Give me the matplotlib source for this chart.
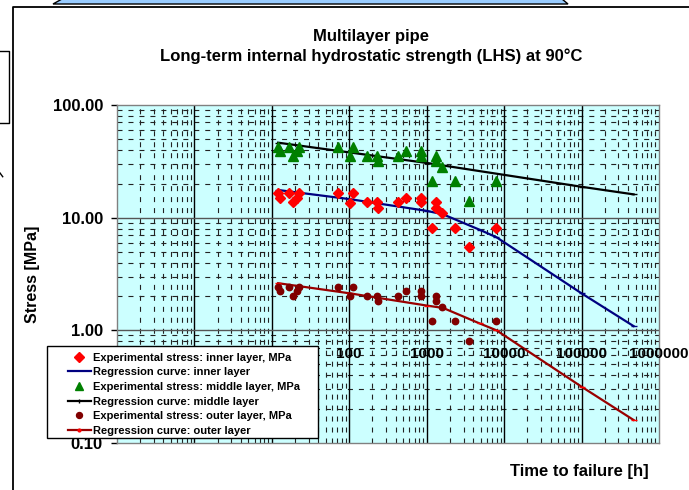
import matplotlib
matplotlib.use("Agg")
import matplotlib.pyplot as plt
from matplotlib.lines import Line2D
from matplotlib.patches import Polygon, Rectangle

# ---- data ----
t_exp = [12.1, 12.8, 16.8, 18.9, 21, 22.4, 72, 104, 113, 168, 228, 237, 425, 540,
         834, 834, 1156, 1315, 1315, 1570, 2333, 3475, 7820]
s_inner = [16.5, 15.0, 16.5, 13.7, 15.0, 16.7, 16.5, 13.6, 16.5, 13.7, 13.7, 12.3, 13.7, 14.9,
           15.0, 13.7, 8.1, 13.7, 12.3, 10.9, 8.1, 5.5, 8.1]
s_middle = [42, 39, 42, 35.5, 39, 42.5, 42, 35.5, 42, 35.5, 35.5, 31.8, 35.5, 39,
            39, 35.5, 21.3, 35.5, 31.8, 28, 21.3, 14.1, 21.3]
s_outer = [2.44, 2.24, 2.44, 2.03, 2.24, 2.44, 2.44, 2.03, 2.44, 2.03, 2.03, 1.82, 2.03, 2.24,
           2.24, 2.03, 1.21, 2.03, 1.82, 1.62, 1.21, 0.81, 1.21]

t_reg = [12.1, 102, 998, 1633, 4856, 7980, 1.0e5, 4.7e5]
reg_inner = [17.6, 14.6, 11.5, 10.7, 7.8, 6.7, 2.13, 1.09]
reg_outer = [2.62, 2.13, 1.66, 1.58, 1.15, 1.0, 0.316, 0.16]
t_reg_mid = [12.1, 1000, 1.0e5, 4.7e5]
reg_middle = [46.3, 30.6, 18.8, 16.1]

x_decades = [1, 10, 100, 1000, 10000, 100000]
# labels for 0.1 / 1 / 10 sit behind the legend in the original, only these show
x_ticks = [100, 1000, 10000, 100000, 1000000]
x_ticklabels = ["100", "1000", "10000", "100000", "1000000"]
y_ticks = [0.1, 1, 10, 100]
y_ticklabels = ["0.10", "1.00", "10.00", "100.00"]

W, H = 689, 490
BG = "#CCFFFF"; RED = "#FF0000"; NAVY = "#000080"; GREEN = "#008000"; MAROON = "#800000"
DRED = "#990000"; FRAME = "#808080"; INK = "#000000"

plt.rcParams.update({"font.family": ["Liberation Sans", "DejaVu Sans"], "font.weight": "bold",
                     "lines.scale_dashes": False})


def px(x, y):
    return (x / W, 1 - y / H)


def main():
    fig = plt.figure(figsize=(W / 100, H / 100), dpi=100)
    l, b = px(116.8, 443)
    r, t = px(659, 105)
    ax = fig.add_axes([l, b, r - l, t - b])
    ax.set_facecolor(BG)
    ax.set_xscale("log"); ax.set_yscale("log")
    ax.set_xlim(0.1, 1e6); ax.set_ylim(0.1, 100)

    # grid: solid majors, dashed minors (Excel style)
    for dec in range(-1, 6):
        for k in range(2, 10):
            ax.axvline(k * 10.0 ** dec, color="#222222", lw=0.8, ls=(0, (3.6, 4.3)), zorder=1)
    for dec in range(-1, 2):
        for k in range(2, 10):
            ax.axhline(k * 10.0 ** dec, color="#222222", lw=0.8, ls=(0, (3.6, 4.3)), zorder=1)
    for xv in x_decades:
        ax.axvline(xv, color=INK, lw=1.0, zorder=1.5)
    for yv in y_ticks[1:3]:
        ax.axhline(yv, color="#555555", lw=1.0, zorder=1.5)

    for sp in ax.spines.values():
        sp.set_color(FRAME); sp.set_linewidth(1.0)

    ax.set_yticks(y_ticks)
    ax.set_yticklabels(y_ticklabels, fontsize=12, fontweight="bold")
    ax.yaxis.set_minor_locator(matplotlib.ticker.NullLocator())
    ax.tick_params(axis="y", which="major", direction="out", length=4, width=1, color=INK, pad=6)
    ax.set_xticks([]); ax.xaxis.set_minor_locator(matplotlib.ticker.NullLocator())

    # x tick labels sit on the y = 1 line (axis crossing)
    for xv, lab in zip(x_ticks, x_ticklabels):
        ax.annotate(lab, (xv, 1.0), xytext=(0, -16.7), textcoords="offset points",
                    ha="center", va="center", fontsize=11, fontweight="bold", zorder=6,
                    annotation_clip=False)

    # regression curves
    ax.plot(t_reg, reg_inner, color=NAVY, lw=1.6, zorder=3, marker="_", ms=4, mec=NAVY)
    ax.plot(t_reg_mid, reg_middle, color=INK, lw=1.6, zorder=3, marker="_", ms=4, mec=INK)
    ax.plot(t_reg, reg_outer, color=DRED, lw=1.6, zorder=3, marker="_", ms=4, mec=RED)

    # experimental points
    ax.plot(t_exp, s_inner, ls="none", marker="D", ms=5, color=RED, zorder=4)
    ax.plot(t_exp, s_middle, ls="none", marker="^", ms=6.5, color=GREEN, zorder=4)
    ax.plot(t_exp, s_outer, ls="none", marker="o", ms=4.6, color=MAROON, zorder=4)

    # titles / axis labels
    fig.text(*px(371, 37), "Multilayer pipe", ha="center", va="center", fontsize=12, fontweight="bold")
    fig.text(*px(371, 56.5), "Long-term internal hydrostatic strength (LHS) at 90\u00b0C",
             ha="center", va="center", fontsize=12, fontweight="bold")
    fig.text(*px(33, 274), "Stress [MPa]", rotation=90, ha="center", va="center",
             fontsize=11.5, fontweight="bold")
    fig.text(*px(579, 471.5), "Time to failure [h]", ha="center", va="center",
             fontsize=12, fontweight="bold")

    # legend: white box drawn separately, entries inside
    x0, y0 = px(46.7, 437.7)
    x1, y1 = px(317.7, 346)
    fig.patches.append(Rectangle((x0, y0), x1 - x0, y1 - y0, transform=fig.transFigure,
                                 facecolor="white", edgecolor=INK, lw=1.0, zorder=8))
    handles = [
        Line2D([], [], ls="none", marker="D", ms=5, color=RED),
        Line2D([], [], color=NAVY, lw=1.6),
        Line2D([], [], ls="none", marker="^", ms=6, color=GREEN),
        Line2D([], [], color=INK, lw=1.6, marker="|", ms=3),
        Line2D([], [], ls="none", marker="o", ms=4.3, color=MAROON),
        Line2D([], [], color=DRED, lw=1.6, marker="o", ms=2, mfc=RED, mec=RED),
    ]
    labels = ["Experimental stress: inner layer, MPa", "Regression curve: inner layer",
              "Experimental stress: middle layer, MPa", "Regression curve: middle layer",
              "Experimental stress: outer layer, MPa", "Regression curve: outer layer"]
    leg = fig.legend(handles, labels, loc="upper left", bbox_to_anchor=px(62, 347),
                     frameon=False, borderpad=0, handlelength=2.1, handletextpad=0.15,
                     labelspacing=0.42, prop={"weight": "bold", "size": 8})
    leg.set_zorder(9)

    # surrounding slide decorations
    fig.lines.append(Line2D([px(12.5, 0)[0], px(12.5, 0)[0], 1], [0, px(0, 7.5)[1], px(0, 7.5)[1]],
                            transform=fig.transFigure, color=INK, lw=1.3))
    bx = [px(0, 51), px(8.5, 51), px(8.5, 123), px(0, 123)]
    fig.lines.append(Line2D([p[0] for p in bx], [p[1] for p in bx], transform=fig.transFigure,
                            color=INK, lw=1.0))
    fig.lines.append(Line2D([0, px(2.7, 0)[0]], [px(0, 173)[1], px(0, 176.7)[1]],
                            transform=fig.transFigure, color=INK, lw=1.0))
    trap = [px(53, 4), px(62, -1), px(562, -1), px(568, 4)]
    fig.patches.append(Polygon(trap, closed=True, transform=fig.transFigure,
                               facecolor="#99CCFF", edgecolor=INK, lw=1.0))

    fig.savefig("out.png", dpi=100)
    plt.close(fig)


if __name__ == "__main__":
    main()
